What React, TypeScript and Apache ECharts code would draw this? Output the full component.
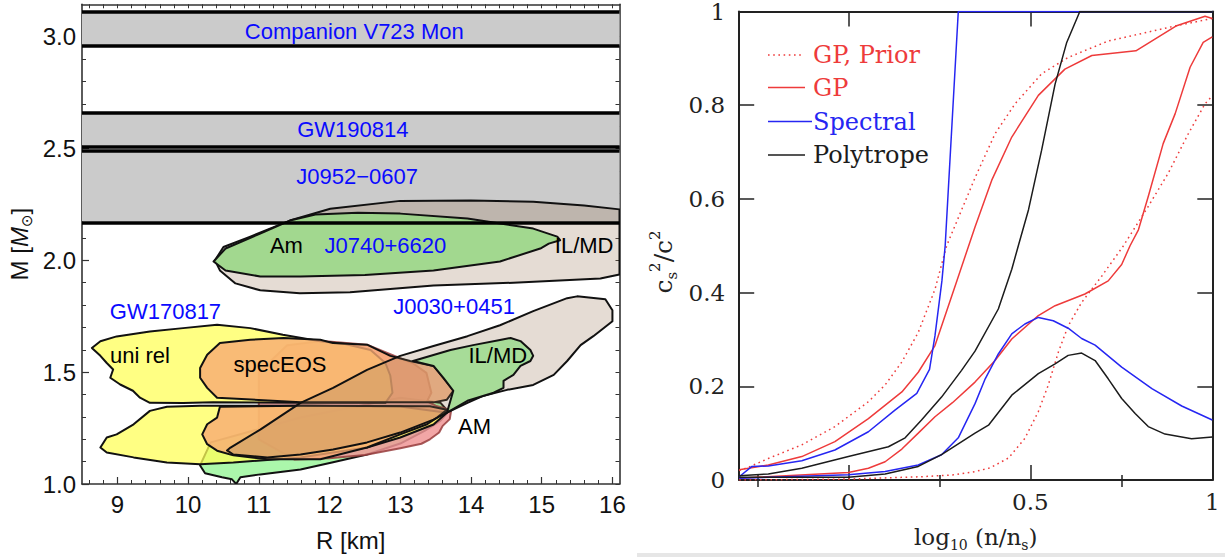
import React, { useEffect, useRef } from "react";
import * as echarts from "echarts";

const SANS = "'Liberation Sans', Arial, sans-serif";
const SERIF = "'DejaVu Serif', 'Liberation Serif', serif";
const RED = "#ee3b3b";
const BLUE = "#2626f2";
const BLACK = "#1c1c1c";

// ---------------- Left panel: M–R ----------------
const rLabelTicks = [9, 10, 11, 12, 13, 14, 15, 16];
const mLabelTicks = [1.0, 1.5, 2.0, 2.5, 3.0];

const bandNames = ["Companion V723 Mon", "GW190814", "J0952\u22120607"];
const bandLow = [2.96, 2.513, 2.174];
const bandHigh = [3.114, 2.663, 2.492];
const bandLabelR = [12.35, 12.33, 12.39];
const bandLabelM = [3.023, 2.587, 2.373];

const blueLabelNames = ["J0740+6620", "GW170817", "J0030+0451"];
const blueLabelR = [12.79, 9.68, 13.76];
const blueLabelM = [2.066, 1.77, 1.795];

const blackLabelNames = ["Am", "IL/MD", "uni rel", "specEOS", "IL/MD", "AM"];
const blackLabelR = [11.39, 15.6, 9.32, 11.3, 14.38, 14.05];
const blackLabelM = [2.066, 2.066, 1.573, 1.533, 1.573, 1.257];

// contours [R km, M Msun]
const j0740IlmdContour = [[10.38,2.0],[10.5,2.06],[10.88,2.106],[11.44,2.178],[12.01,2.231],[13.0,2.266],[14.0,2.268],[14.88,2.262],[15.6,2.245],[16.1,2.228],[16.1,1.937],[15.83,1.919],[14.6,1.9],[13.47,1.888],[12.29,1.857],[11.58,1.853],[11.02,1.866],[10.67,1.897],[10.45,1.955]];
const j0740AmContour = [[10.36,1.995],[10.53,2.053],[11.02,2.12],[11.44,2.178],[11.8,2.205],[12.4,2.213],[13.0,2.209],[13.95,2.187],[14.88,2.142],[15.22,2.106],[15.26,2.09],[15.1,2.075],[14.98,2.053],[14.41,1.995],[13.47,1.955],[12.5,1.935],[11.59,1.928],[11.02,1.928],[10.53,1.955]];
const j0030AmMint = [[10.17,1.083],[10.24,1.048],[10.48,1.03],[10.62,1.021],[10.68,1.0],[10.74,1.03],[11.02,1.043],[11.59,1.065],[12.05,1.097],[12.53,1.132],[13.0,1.181],[13.35,1.239],[13.57,1.283],[13.68,1.323],[13.57,1.363],[13.0,1.386],[11.59,1.297],[10.32,1.186]];
const j0030IlmdGreen = [[13.18,1.55],[13.71,1.599],[14.03,1.621],[14.41,1.644],[14.56,1.653],[14.7,1.639],[14.84,1.599],[14.88,1.573],[14.84,1.55],[14.7,1.528],[14.6,1.488],[14.46,1.461],[14.46,1.43],[14.32,1.408],[13.95,1.372],[13.71,1.328],[13.66,1.319],[13.75,1.417],[13.61,1.475],[13.47,1.528]];
const j0030AmPink = [[11.9,1.64],[12.53,1.623],[12.98,1.565],[13.18,1.54],[13.37,1.497],[13.44,1.408],[13.38,1.37],[13.5,1.35],[13.72,1.33],[13.7,1.29],[13.6,1.26],[13.55,1.23],[13.42,1.2],[13.3,1.18],[13.0,1.16],[12.5,1.13],[12.0,1.115],[11.5,1.11],[11.0,1.2],[11.0,1.5],[11.4,1.62]];
const uniRelUpper = [[8.64,1.608],[8.76,1.638],[8.99,1.66],[9.46,1.682],[9.93,1.697],[10.41,1.712],[10.88,1.697],[11.34,1.667],[11.87,1.638],[12.22,1.626],[12.58,1.599],[12.79,1.541],[12.86,1.484],[12.89,1.408],[12.79,1.363],[11.59,1.363],[10.35,1.365],[9.93,1.362],[9.46,1.363],[9.32,1.386],[9.22,1.417],[9.04,1.445],[8.9,1.475],[8.94,1.512],[8.85,1.541],[8.76,1.573]];
const uniRelLower = [[8.76,1.163],[8.85,1.208],[8.99,1.222],[9.23,1.267],[9.46,1.327],[9.7,1.345],[10.17,1.35],[10.64,1.35],[11.59,1.35],[13.0,1.347],[13.66,1.319],[13.47,1.266],[13.0,1.208],[12.53,1.163],[12.05,1.141],[11.59,1.119],[10.64,1.096],[10.17,1.088],[9.7,1.096],[9.23,1.119],[8.85,1.141]];
const specEosUpper = [[10.17,1.519],[10.27,1.578],[10.45,1.63],[10.88,1.645],[11.35,1.653],[11.87,1.645],[12.05,1.63],[12.53,1.623],[12.86,1.573],[13.14,1.55],[13.47,1.528],[13.61,1.475],[13.75,1.417],[13.66,1.377],[13.47,1.365],[11.59,1.365],[10.41,1.386],[10.27,1.43],[10.17,1.475]];
const specEosLower = [[10.45,1.345],[10.41,1.297],[10.27,1.267],[10.2,1.222],[10.27,1.178],[10.41,1.149],[10.64,1.128],[11.12,1.111],[11.87,1.111],[12.53,1.163],[13.0,1.222],[13.38,1.267],[13.52,1.297],[13.66,1.332],[13.42,1.348],[11.59,1.35]];
const j0030IlmdContour = [[10.55,1.15],[10.6,1.163],[11.02,1.243],[11.59,1.363],[12.05,1.43],[12.53,1.51],[13.0,1.573],[13.47,1.617],[13.95,1.661],[14.41,1.71],[14.88,1.773],[15.36,1.831],[15.5,1.839],[15.9,1.826],[16.0,1.777],[16.0,1.728],[15.73,1.661],[15.55,1.621],[15.36,1.55],[15.17,1.488],[14.88,1.443],[14.51,1.421],[14.18,1.395],[13.95,1.363],[13.66,1.319],[13.47,1.288],[13.0,1.23],[12.53,1.186],[12.05,1.154],[11.59,1.132],[11.12,1.119],[10.64,1.132]];

// ---------------- Right panel: c_s^2 ----------------
const gpPriorUpper = [[-0.3,0.02],[-0.275,0.027],[-0.22,0.046],[-0.128,0.075],[-0.037,0.114],[0.055,0.167],[0.101,0.203],[0.147,0.252],[0.192,0.315],[0.238,0.407],[0.27,0.5],[0.348,0.645],[0.403,0.739],[0.458,0.803],[0.531,0.867],[0.604,0.902],[0.714,0.937],[0.806,0.953],[0.897,0.969],[1.0,0.985]];
const gpPriorLower = [[-0.3,0.0],[0.0,0.002],[0.2,0.007],[0.29,0.011],[0.348,0.018],[0.39,0.026],[0.44,0.047],[0.485,0.089],[0.522,0.146],[0.549,0.202],[0.577,0.273],[0.604,0.329],[0.641,0.379],[0.696,0.435],[0.755,0.499],[0.824,0.584],[0.879,0.655],[0.934,0.739],[0.98,0.803],[1.0,0.82]];
const gpUpper = [[-0.3,0.022],[-0.22,0.032],[-0.128,0.05],[-0.037,0.082],[0.055,0.131],[0.147,0.188],[0.192,0.23],[0.238,0.287],[0.298,0.425],[0.348,0.54],[0.394,0.64],[0.449,0.732],[0.522,0.821],[0.595,0.877],[0.669,0.906],[0.79,0.916],[0.9,0.969],[0.98,0.99],[1.0,0.985]];
const gpLower = [[-0.3,0.004],[0.0,0.016],[0.055,0.025],[0.101,0.039],[0.147,0.066],[0.192,0.1],[0.238,0.135],[0.286,0.165],[0.348,0.209],[0.403,0.255],[0.449,0.301],[0.522,0.351],[0.568,0.372],[0.65,0.397],[0.714,0.425],[0.751,0.46],[0.774,0.5],[0.797,0.534],[0.824,0.605],[0.865,0.718],[0.898,0.782],[0.939,0.881],[0.975,0.934],[1.0,0.946]];
const spectralUpper = [[-0.3,0.007],[-0.265,0.029],[-0.22,0.03],[-0.128,0.041],[-0.037,0.064],[0.055,0.103],[0.128,0.149],[0.188,0.185],[0.223,0.236],[0.238,0.308],[0.257,0.425],[0.266,0.5],[0.302,1.0],[1.0,1.0]];
const spectralLower = [[-0.3,0.004],[0.0,0.011],[0.101,0.018],[0.192,0.032],[0.256,0.054],[0.302,0.09],[0.348,0.163],[0.376,0.216],[0.412,0.269],[0.449,0.312],[0.485,0.333],[0.522,0.347],[0.563,0.34],[0.604,0.324],[0.641,0.302],[0.678,0.288],[0.751,0.241],[0.834,0.195],[0.916,0.158],[1.0,0.128]];
const polytropeUpper = [[-0.3,0.009],[-0.22,0.013],[-0.128,0.025],[0.0,0.05],[0.11,0.071],[0.156,0.09],[0.201,0.128],[0.256,0.177],[0.311,0.234],[0.348,0.275],[0.412,0.365],[0.449,0.45],[0.467,0.5],[0.495,0.577],[0.531,0.704],[0.568,0.845],[0.6,0.934],[0.636,1.0],[1.0,1.0]];
const polytropeLower = [[-0.3,0.006],[0.0,0.006],[0.101,0.013],[0.192,0.029],[0.256,0.054],[0.348,0.1],[0.385,0.117],[0.449,0.181],[0.522,0.227],[0.568,0.248],[0.604,0.266],[0.641,0.271],[0.678,0.255],[0.714,0.216],[0.751,0.174],[0.788,0.142],[0.824,0.114],[0.87,0.098],[0.943,0.088],[1.0,0.092]];

const xTickLabels = [0, 0.5, 1];
const xLongTicks = [0, 0.5];
const xShortTicks = [-0.25, 0.25, 0.75];

const legendNames = ["GP, Prior", "GP", "Spectral", "Polytrope"];
const legendColors = [RED, RED, BLUE, BLACK];

const rMinor: number[] = [];
for (let i = 43; i <= 80; i++) rMinor.push(Math.round(i * 2) / 10); // 8.6 .. 16.0 every 0.2
const mMinor: number[] = [];
for (let i = 10; i <= 31; i++) mMinor.push(i / 10); // 1.0 .. 3.1 every 0.1

const poly = (pts: number[][], fill: string, stroke: string, lw = 2) => ({
  type: "custom",
  xAxisIndex: 0,
  yAxisIndex: 0,
  silent: true,
  clip: true,
  z: 3,
  data: [pts[0]],
  renderItem: (_p: any, api: any) => ({
    type: "polygon",
    shape: { points: pts.map((p) => api.coord(p)) },
    style: { fill, stroke, lineWidth: lw, lineJoin: "round" },
  }),
});

const texts = (names: string[], rs: number[], ms: number[], color: string) => ({
  type: "custom",
  xAxisIndex: 0,
  yAxisIndex: 0,
  silent: true,
  z: 10,
  data: names.map((_n, i) => [rs[i], ms[i]]),
  renderItem: (params: any, api: any) => {
    const p = api.coord([api.value(0), api.value(1)]);
    return {
      type: "text",
      x: p[0],
      y: p[1],
      style: {
        text: names[params.dataIndex],
        fill: color,
        font: `22px ${SANS}`,
        align: "center",
        verticalAlign: "middle",
      },
    };
  },
});

const curve = (data: number[][], color: string, dotted = false) => ({
  type: "line",
  xAxisIndex: 3,
  yAxisIndex: 3,
  data,
  symbol: "none",
  showSymbol: false,
  silent: true,
  clip: true,
  z: 3,
  lineStyle: { color, width: 1.5, type: dotted ? [1.6, 3.6] : "solid" },
});

const frameL = { show: true, onZero: false, lineStyle: { color: "#333", width: 1.6 } };
const frameR = { show: true, onZero: false, lineStyle: { color: "#222", width: 2 } };
const noLabel = { show: false };
const noSplit = { show: false };

const option: any = {
  animation: false,
  backgroundColor: "#fff",
  grid: [
    { left: 82, top: 4.3, width: 537.5, height: 482.4 },
    { left: 739.2, top: 8.8, width: 473.1, height: 471.5 },
  ],
  xAxis: [
    {
      gridIndex: 0, type: "value", position: "bottom", min: 8.5, max: 16.1,
      axisLine: frameL, splitLine: noSplit,
      axisTick: { inside: true, length: 7, customValues: rLabelTicks, lineStyle: { color: "#333", width: 1.2 } },
      axisLabel: { customValues: rLabelTicks, fontSize: 24, fontFamily: SANS, color: "#111", margin: 8 },
      name: "R [km]", nameLocation: "middle", nameGap: 44,
      nameTextStyle: { fontSize: 24, fontFamily: SANS, color: "#111" },
    },
    {
      gridIndex: 0, type: "value", position: "bottom", min: 8.5, max: 16.1,
      axisLine: { show: false }, splitLine: noSplit, axisLabel: noLabel,
      axisTick: { inside: true, length: 4, customValues: rMinor, lineStyle: { color: "#333", width: 1 } },
    },
    {
      gridIndex: 0, type: "value", position: "top", min: 8.5, max: 16.1,
      axisLine: frameL, splitLine: noSplit, axisLabel: noLabel,
      axisTick: { inside: true, length: 4, customValues: rMinor, lineStyle: { color: "#333", width: 1 } },
    },
    {
      gridIndex: 1, type: "value", position: "bottom", min: -0.3, max: 1,
      axisLine: frameR, splitLine: noSplit,
      axisTick: { inside: true, length: 15, customValues: xLongTicks, lineStyle: { color: "#222", width: 1.5 } },
      axisLabel: {
        customValues: xTickLabels, fontSize: 23, fontFamily: SERIF, color: "#222", margin: 10,
        formatter: (v: number) => String(v),
      },
      name: "{a|log}{s|10}{a| (n/n}{s|s}{a|)}", nameLocation: "middle", nameGap: 42,
      nameTextStyle: {
        rich: {
          a: { fontSize: 23, fontFamily: SERIF, color: "#222", lineHeight: 30 },
          s: { fontSize: 14, fontFamily: SERIF, color: "#222", verticalAlign: "bottom", lineHeight: 30 },
        },
      },
    },
    {
      gridIndex: 1, type: "value", position: "bottom", min: -0.3, max: 1,
      axisLine: { show: false }, splitLine: noSplit, axisLabel: noLabel,
      axisTick: { inside: true, length: 5, customValues: xShortTicks, lineStyle: { color: "#222", width: 1.5 } },
    },
    {
      gridIndex: 1, type: "value", position: "top", min: -0.3, max: 1,
      axisLine: frameR, splitLine: noSplit, axisLabel: noLabel,
      axisTick: { inside: true, length: 15, customValues: xLongTicks, lineStyle: { color: "#222", width: 1.5 } },
    },
    {
      gridIndex: 1, type: "value", position: "top", min: -0.3, max: 1,
      axisLine: { show: false }, splitLine: noSplit, axisLabel: noLabel,
      axisTick: { inside: true, length: 7, customValues: xShortTicks, lineStyle: { color: "#222", width: 1.5 } },
    },
  ],
  yAxis: [
    {
      gridIndex: 0, type: "value", position: "left", min: 1.0, max: 3.145,
      axisLine: frameL, splitLine: noSplit,
      axisTick: { inside: true, length: 7, customValues: mLabelTicks, lineStyle: { color: "#333", width: 1.2 } },
      axisLabel: {
        customValues: mLabelTicks, fontSize: 24, fontFamily: SANS, color: "#111", margin: 6,
        formatter: (v: number) => v.toFixed(1),
      },
      name: "{a|M [}{i|M}{s|\u2299}{a|]}", nameLocation: "middle", nameGap: 48,
      nameTextStyle: {
        rich: {
          a: { fontSize: 24, fontFamily: SANS, color: "#111", lineHeight: 30 },
          i: { fontSize: 24, fontFamily: SANS, fontStyle: "italic", color: "#111", lineHeight: 30 },
          s: { fontSize: 15, fontFamily: "'DejaVu Sans', sans-serif", color: "#111", verticalAlign: "bottom", lineHeight: 30 },
        },
      },
    },
    {
      gridIndex: 0, type: "value", position: "left", min: 1.0, max: 3.145,
      axisLine: { show: false }, splitLine: noSplit, axisLabel: noLabel,
      axisTick: { inside: true, length: 4, customValues: mMinor, lineStyle: { color: "#333", width: 1 } },
    },
    {
      gridIndex: 0, type: "value", position: "right", min: 1.0, max: 3.145,
      axisLine: frameL, splitLine: noSplit, axisLabel: noLabel,
      axisTick: { inside: true, length: 4, customValues: mMinor, lineStyle: { color: "#333", width: 1 } },
    },
    {
      gridIndex: 1, type: "value", position: "left", min: 0, max: 1, interval: 0.2,
      axisLine: frameR, splitLine: noSplit,
      axisTick: { inside: true, length: 15, lineStyle: { color: "#222", width: 1.5 } },
      axisLabel: {
        fontSize: 23, fontFamily: SERIF, color: "#222", margin: 14,
        formatter: (v: number) => (v === 0 ? "0" : v === 1 ? "1" : v.toFixed(1)),
      },
    },
    {
      gridIndex: 1, type: "value", position: "right", min: 0, max: 1, interval: 0.2,
      axisLine: frameR, splitLine: noSplit, axisLabel: noLabel,
      axisTick: { inside: true, length: 15, lineStyle: { color: "#222", width: 1.5 } },
    },
  ],
  series: [
    {
      type: "line", xAxisIndex: 0, yAxisIndex: 0, data: [[8.5, 1.0]], symbol: "none", silent: true,
      lineStyle: { opacity: 0 }, z: 1,
      markArea: {
        silent: true, z: 1,
        itemStyle: { color: "#cbcbcb" },
        label: { show: false },
        data: bandLow.map((lo, i) => [{ yAxis: lo }, { yAxis: bandHigh[i] }]),
      },
    },
    poly(j0740IlmdContour, "rgba(150,115,85,0.25)", "#111"),
    poly(j0740AmContour, "rgba(150,215,130,0.85)", "#111"),
    poly(j0030AmMint, "rgba(150,245,150,0.8)", "#111"),
    poly(j0030AmPink, "rgba(240,150,150,0.85)", "rgba(150,60,60,0.85)"),
    poly(uniRelUpper, "rgba(255,255,90,0.75)", "#111"),
    poly(uniRelLower, "rgba(255,255,90,0.75)", "#111"),
    poly(specEosUpper, "rgba(247,170,115,0.8)", "#111"),
    poly(specEosLower, "rgba(247,170,115,0.8)", "#111"),
    poly(j0030IlmdContour, "rgba(150,115,85,0.25)", "#111"),
    poly(j0030IlmdGreen, "rgba(160,220,145,0.9)", "#111"),
    {
      type: "line", xAxisIndex: 0, yAxisIndex: 0, data: [[8.5, 1.0]], symbol: "none", silent: true,
      lineStyle: { opacity: 0 }, z: 6,
      markLine: {
        silent: true, z: 6, symbol: ["none", "none"], label: { show: false },
        lineStyle: { color: "#000", width: 3.5, type: "solid" },
        data: [...bandLow, ...bandHigh].map((v) => ({ yAxis: v })),
      },
    },
    texts(bandNames, bandLabelR, bandLabelM, "#0a0aff"),
    texts(blueLabelNames, blueLabelR, blueLabelM, "#0a0aff"),
    texts(blackLabelNames, blackLabelR, blackLabelM, "#000"),
    curve(gpPriorUpper, RED, true),
    curve(gpPriorLower, RED, true),
    curve(gpUpper, RED),
    curve(gpLower, RED),
    curve(spectralUpper, BLUE),
    curve(spectralLower, BLUE),
    curve(polytropeUpper, BLACK),
    curve(polytropeLower, BLACK),
  ],
  graphic: [
    ...legendNames.map((t, i) => {
      const y = [55, 87.5, 121.5, 155][i];
      return {
        type: "group",
        silent: true,
        children: [
          {
            type: "line",
            shape: { x1: 768, y1: y, x2: i === 0 ? 802 : i === 2 ? 812 : 805, y2: y },
            style: { stroke: legendColors[i], lineWidth: 1.5, lineDash: i === 0 ? [1.6, 3.6] : null },
          },
          {
            type: "text",
            x: 813,
            y,
            style: { text: t, fill: legendColors[i], font: `24px ${SERIF}`, verticalAlign: "middle" },
          },
        ],
      };
    }),
    {
      type: "text",
      silent: true,
      x: 663,
      y: 262,
      rotation: Math.PI / 2,
      style: {
        text: "{a|c}{s|s}{p|2}{a|/c}{p|2}",
        align: "center",
        verticalAlign: "middle",
        rich: {
          a: { fontSize: 25, fontFamily: SERIF, fill: "#222", lineHeight: 32 },
          s: { fontSize: 15, fontFamily: SERIF, fill: "#222", verticalAlign: "bottom", lineHeight: 32 },
          p: { fontSize: 15, fontFamily: SERIF, fill: "#222", verticalAlign: "top", lineHeight: 32 },
        },
      },
    },
    { type: "rect", silent: true, shape: { x: 637, y: 553, width: 588, height: 4 }, style: { fill: "#e6e6e6" } },
  ],
};

export default function App() {
  const ref = useRef<HTMLDivElement>(null);
  useEffect(() => {
    const chart = echarts.init(ref.current!, null, { renderer: "svg" });
    chart.setOption(option);
    return () => chart.dispose();
  }, []);
  return (
    <div
      ref={ref}
      style={{ position: "fixed", left: 0, top: 0, width: 1225, height: 557, background: "#fff" }}
    />
  );
}
